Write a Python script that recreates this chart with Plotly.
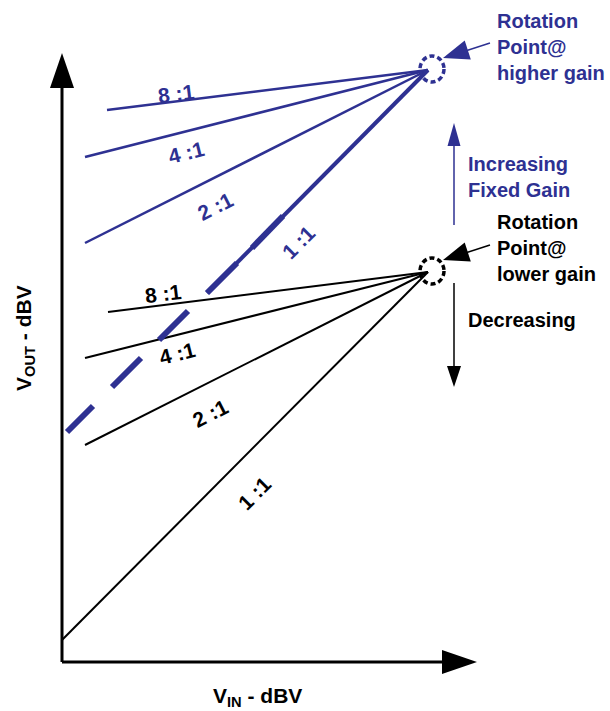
import plotly.graph_objects as go

BLUE = "#2E3192"
FONT = "Liberation Sans, Arial, sans-serif"

# drawing units = pixels of the original sketch, origin at the axes corner
ratios = ["1 :1", "2 :1", "4 :1", "8 :1"]

low_pivot = (366, 390)
low_start_x = [0, 23, 23, 46]
low_start_y = [22, 217, 304, 350]
low_label_x = [192, 148, 115, 101]
low_label_y = [169, 249, 309, 369]

high_pivot = (366, 592)
high_start_x = [None, 23, 23, 45]  # 1:1 is drawn dashed below
high_start_y = [None, 419, 505, 552]
high_label_x = [236, 153, 124, 114]
high_label_y = [420, 456, 510, 569]
label_angles = [-45, -27, -14, -7]

# 1:1 at higher gain: three dashes, then a solid run to the pivot
dash_x = [5, 31, 50, 79, 97, 126]
dash_y = [230, 256, 275, 304, 322, 351]
solid_x = [145, 366]
solid_y = [369, 592]
thick_x = [145, 175, 190, 221]
thick_y = [369, 399, 414, 446]


def arrow_head(tip, direction, length, half):
    dx, dy = direction
    n = (dx * dx + dy * dy) ** 0.5
    dx, dy = dx / n, dy / n
    bx, by = tip[0] - dx * length, tip[1] - dy * length
    px, py = -dy * half, dx * half
    return "M {},{} L {},{} L {},{} Z".format(
        tip[0], tip[1], bx + px, by + py, bx - px, by - py)


fig = go.Figure()

for i in range(len(ratios)):
    fig.add_trace(go.Scatter(x=[low_start_x[i], low_pivot[0]], y=[low_start_y[i], low_pivot[1]],
                             mode="lines", line=dict(color="black", width=2), hoverinfo="skip"))
    if high_start_x[i] is not None:
        fig.add_trace(go.Scatter(x=[high_start_x[i], high_pivot[0]], y=[high_start_y[i], high_pivot[1]],
                                 mode="lines", line=dict(color=BLUE, width=2.5), hoverinfo="skip"))

dx, dy = [], []
for k in range(0, len(dash_x), 2):
    dx += [dash_x[k], dash_x[k + 1], None]
    dy += [dash_y[k], dash_y[k + 1], None]
fig.add_trace(go.Scatter(x=dx, y=dy, mode="lines", line=dict(color=BLUE, width=6), hoverinfo="skip"))
fig.add_trace(go.Scatter(x=solid_x, y=solid_y, mode="lines", line=dict(color=BLUE, width=4), hoverinfo="skip"))
tx, ty = [], []
for k in range(0, len(thick_x), 2):
    tx += [thick_x[k], thick_x[k + 1], None]
    ty += [thick_y[k], thick_y[k + 1], None]
fig.add_trace(go.Scatter(x=tx, y=ty, mode="lines", line=dict(color=BLUE, width=6), hoverinfo="skip"))

shapes = []
# axes with arrow heads
shapes.append(dict(type="line", x0=0, y0=0, x1=0, y1=580, line=dict(color="black", width=3)))
shapes.append(dict(type="line", x0=0, y0=0, x1=385, y1=0, line=dict(color="black", width=3)))
shapes.append(dict(type="path", path=arrow_head((0, 609), (0, 1), 35, 12), fillcolor="black", line=dict(width=0)))
shapes.append(dict(type="path", path=arrow_head((415, 0), (1, 0), 35, 12), fillcolor="black", line=dict(width=0)))

# dotted circles round the rotation points
for (cx, cy), col in ((high_pivot, BLUE), (low_pivot, "black")):
    shapes.append(dict(type="circle", x0=cx + 4 - 12, x1=cx + 4 + 12, y0=cy + 1 - 13, y1=cy + 1 + 13,
                       line=dict(color=col, width=3.5, dash="5px,3px")))

# pointers to the rotation points
for (cx, cy), col, ly in ((high_pivot, BLUE, 619), (low_pivot, "black", 417)):
    tip = (cx + 15, cy + 12)
    shapes.append(dict(type="line", x0=428, y0=ly, x1=tip[0] + 10, y1=tip[1] + 3, line=dict(color=col, width=1.5)))
    shapes.append(dict(type="path", path=arrow_head(tip, (tip[0] - 428, tip[1] - ly), 26, 10),
                       fillcolor=col, line=dict(width=0)))

# increasing / decreasing arrows
shapes.append(dict(type="line", x0=392, y0=437, x1=392, y1=525, line=dict(color=BLUE, width=1.5)))
shapes.append(dict(type="path", path=arrow_head((392, 539), (0, 1), 23, 6.5), fillcolor=BLUE, line=dict(width=0)))
shapes.append(dict(type="line", x0=392, y0=379, x1=392, y1=290, line=dict(color="black", width=1.5)))
shapes.append(dict(type="path", path=arrow_head((392, 275), (0, -1), 21, 7), fillcolor="black", line=dict(width=0)))

annotations = []
for i, r in enumerate(ratios):
    annotations.append(dict(x=low_label_x[i], y=low_label_y[i], text="<b>{}</b>".format(r), showarrow=False,
                            textangle=label_angles[i], font=dict(family=FONT, size=21, color="black")))
    annotations.append(dict(x=high_label_x[i], y=high_label_y[i], text="<b>{}</b>".format(r), showarrow=False,
                            textangle=label_angles[i], font=dict(family=FONT, size=21, color=BLUE)))

side_texts = [
    (433, 615, "Rotation<br>Point@<br>higher gain", BLUE),
    (404, 485, "Increasing<br>Fixed Gain", BLUE),
    (433, 414, "Rotation<br>Point@<br>lower gain", "black"),
    (404, 342, "Decreasing", "black"),
]
for x, y, t, col in side_texts:
    annotations.append(dict(x=x, y=y, text="<b>{}</b>".format(t.replace("<br>", "</b><br><b>")), showarrow=False,
                            xanchor="left", yanchor="middle", align="left",
                            font=dict(family=FONT, size=20, color=col)))

annotations.append(dict(x=195, y=-35, text="<b>V<sub>IN</sub> - dBV</b>", showarrow=False,
                        font=dict(family=FONT, size=21, color="black")))
annotations.append(dict(x=-37, y=324, text="<b>V<sub>OUT</sub> - dBV</b>", showarrow=False, textangle=-90,
                        font=dict(family=FONT, size=21, color="black")))

fig.update_layout(
    width=610, height=711,
    margin=dict(l=0, r=0, t=0, b=0),
    paper_bgcolor="white", plot_bgcolor="white",
    showlegend=False,
    shapes=shapes,
    annotations=annotations,
    xaxis=dict(range=[-62, 548], visible=False, fixedrange=True),
    yaxis=dict(range=[-49, 662], visible=False, fixedrange=True),
)

fig.write_html("out.html", config={"displayModeBar": False},
               post_script="document.body.style.margin = '0px';")
